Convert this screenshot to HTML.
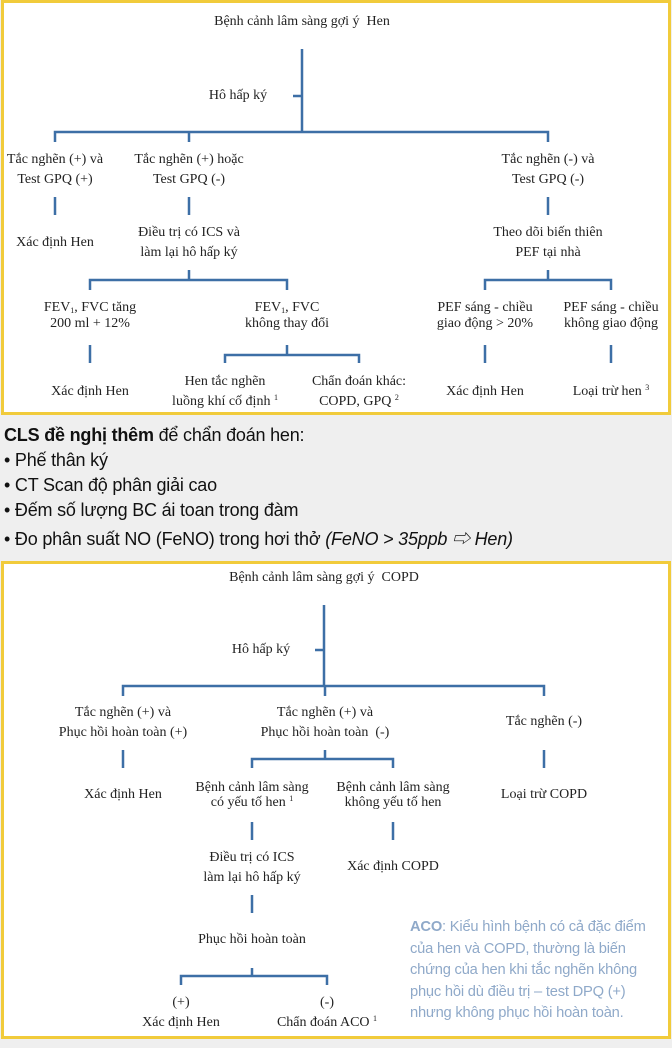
<!DOCTYPE html>
<html><head><meta charset="utf-8">
<style>
html,body{margin:0;padding:0;}
body{width:672px;height:1048px;background:#efefef;position:relative;overflow:hidden;font-family:"Liberation Serif","Noto Serif CJK SC",serif;}
.box{position:absolute;background:#fff;border:3px solid #f1cb3b;box-sizing:border-box;}
.t{position:absolute;transform:translateX(-50%);white-space:nowrap;text-align:center;font-size:14px;line-height:20px;color:#222;}
svg{position:absolute;left:0;top:0;}
sup{font-size:8px;vertical-align:5px;line-height:0;}
sub{font-size:8px;vertical-align:-2px;line-height:0;}
.mid{position:absolute;left:4px;font-family:"Liberation Sans","Noto Sans CJK SC",sans-serif;font-size:18px;color:#111;white-space:nowrap;letter-spacing:-0.2px;}
.aco{position:absolute;left:410px;top:917px;font-family:"Liberation Sans",sans-serif;font-size:14.7px;line-height:21.5px;color:#8fa9c9;white-space:nowrap;letter-spacing:-0.2px;}
</style></head><body>
<div class="box" style="left:1px;top:0;width:670px;height:415px;"></div>
<div class="box" style="left:1px;top:561px;width:670px;height:478px;"></div>
<svg width="672" height="1048" viewBox="0 0 672 1048">
<g stroke="#3d6fa6" stroke-width="2.5" fill="none">
<path d="M302 49V132M293 96H302"/>
<path d="M55 142V132H548V142M189 132V142"/>
<path d="M55 197V215M189 197V215M548 197V215"/>
<path d="M189 270V280M90 290V280H287V290M548 270V280M485 290V280H611V290"/>
<path d="M90 345V363M485 345V363M611 345V363"/>
<path d="M287 345V355M225 363V355H359V363"/>
<path d="M324 605V686M315 650H324"/>
<path d="M123 696V686H544V696M325 686V696"/>
<path d="M123 750V768M544 750V768"/>
<path d="M325 750V759M252 768V759H393V768"/>
<path d="M252 822V840M393 822V840"/>
<path d="M252 895V913"/>
<path d="M252 968V976M181 985V976H327V985"/>
</g></svg>

<div class="t" style="left:302px;top:12px">Bệnh cảnh lâm sàng gợi ý&nbsp; Hen</div>
<div class="t" style="left:238px;top:86px">Hô hấp ký</div>
<div class="t" style="left:55px;top:150px">Tắc nghẽn (+) và<br>Test GPQ (+)</div>
<div class="t" style="left:189px;top:150px">Tắc nghẽn (+) hoặc<br>Test GPQ (-)</div>
<div class="t" style="left:548px;top:150px">Tắc nghẽn (-) và<br>Test GPQ (-)</div>
<div class="t" style="left:55px;top:233px">Xác định Hen</div>
<div class="t" style="left:189px;top:223px">Điều trị có ICS và<br>làm lại hô hấp ký</div>
<div class="t" style="left:548px;top:223px">Theo dõi biến thiên<br>PEF tại nhà</div>
<div class="t" style="left:90px;top:300px;line-height:16px">FEV<sub>1</sub>, FVC tăng<br>200 ml + 12%</div>
<div class="t" style="left:287px;top:300px;line-height:16px">FEV<sub>1</sub>, FVC<br>không thay đổi</div>
<div class="t" style="left:485px;top:300px;line-height:16px">PEF sáng - chiều<br>giao động &gt; 20%</div>
<div class="t" style="left:611px;top:300px;line-height:16px">PEF sáng - chiều<br>không giao động</div>
<div class="t" style="left:90px;top:382px">Xác định Hen</div>
<div class="t" style="left:225px;top:372px">Hen tắc nghẽn<br>luồng khí cố định <sup>1</sup></div>
<div class="t" style="left:359px;top:372px">Chẩn đoán khác:<br>COPD, GPQ <sup>2</sup></div>
<div class="t" style="left:485px;top:382px">Xác định Hen</div>
<div class="t" style="left:611px;top:382px">Loại trừ hen <sup>3</sup></div>

<div class="mid" style="top:425px"><b>CLS đề nghị thêm</b> để chẩn đoán hen:</div>
<div class="mid" style="top:450px">• Phế thân ký</div>
<div class="mid" style="top:475px">• CT Scan độ phân giải cao</div>
<div class="mid" style="top:500px">• Đếm số lượng BC ái toan trong đàm</div>
<div class="mid" style="top:525px">• Đo phân suất NO (FeNO) trong hơi thở <i>(FeNO &gt; 35ppb ⇨ Hen)</i></div>

<div class="t" style="left:324px;top:568px">Bệnh cảnh lâm sàng gợi ý&nbsp; COPD</div>
<div class="t" style="left:261px;top:640px">Hô hấp ký</div>
<div class="t" style="left:123px;top:703px">Tắc nghẽn (+) và<br>Phục hồi hoàn toàn (+)</div>
<div class="t" style="left:325px;top:703px">Tắc nghẽn (+) và<br>Phục hồi hoàn toàn&nbsp; (-)</div>
<div class="t" style="left:544px;top:712px">Tắc nghẽn (-)</div>
<div class="t" style="left:123px;top:785px">Xác định Hen</div>
<div class="t" style="left:252px;top:780px;line-height:15px">Bệnh cảnh lâm sàng<br>có yếu tố hen <sup>1</sup></div>
<div class="t" style="left:393px;top:780px;line-height:15px">Bệnh cảnh lâm sàng<br>không yếu tố hen</div>
<div class="t" style="left:544px;top:785px">Loại trừ COPD</div>
<div class="t" style="left:252px;top:848px">Điều trị có ICS<br>làm lại hô hấp ký</div>
<div class="t" style="left:393px;top:857px">Xác định COPD</div>
<div class="t" style="left:252px;top:930px">Phục hồi hoàn toàn</div>
<div class="t" style="left:181px;top:993px">(+)<br>Xác định Hen</div>
<div class="t" style="left:327px;top:993px">(-)<br>Chẩn đoán ACO <sup>1</sup></div>

<div class="aco"><b>ACO</b>: Kiểu hình bệnh có cả đặc điểm<br>của hen và COPD, thường là biến<br>chứng của hen khi tắc nghẽn không<br>phục hồi dù điều trị – test DPQ (+)<br>nhưng không phục hồi hoàn toàn.</div>
</body></html>
